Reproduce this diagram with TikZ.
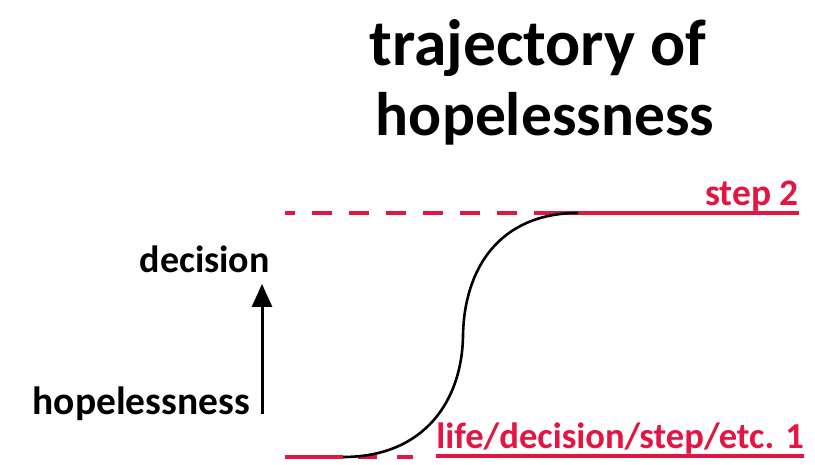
\documentclass[tikz,border=0pt]{standalone}
\usepackage{fontspec}
\setmainfont{Carlito}
\usepackage{tikz}
\usetikzlibrary{arrows.meta, positioning, calc}
\definecolor{Crimson}{RGB}{226, 22, 66}

\begin{document}
\begin{tikzpicture}[x=1pt, y=-1pt, >=Triangle,
  ttl/.style={font=\fontsize{62}{64}\selectfont\bfseries, inner sep=0pt, anchor=base},
  lbl/.style={font=\fontsize{38}{40}\selectfont\bfseries, inner sep=0pt},
  rlbl/.style={lbl, text=Crimson, anchor=base east},
  redline/.style={draw=Crimson, line width=3.2pt},
  curve/.style={draw=black, line width=2.6pt}
]
  \useasboundingbox (0,0) rectangle (815,465);

  %% Title
  \node[ttl, font=\fontsize{65.5}{66}\selectfont\bfseries] (T1) at (538,66) {trajectory of};
  \node[ttl, font=\fontsize{61.5}{64}\selectfont\bfseries] (T2) at (545,136) {hopelessness};

  %% Axis labels and arrow
  \node[lbl, anchor=base east] (DEC)  at (270,273) {decision};
  \node[lbl, anchor=base east, font=\fontsize{39.5}{40}\selectfont\bfseries] (HOPE) at (250,415) {hopelessness};
  \coordinate (abot) at (262,414);
  \coordinate (atop) at (262,284);
  \draw[line width=3pt, -{Triangle[width=20pt, length=23pt]}] (abot) -- (atop);

  %% Levels
  \node[rlbl, font=\fontsize{37.5}{40}\selectfont\bfseries] (S2) at (799,206) {step 2};
  \node[rlbl, font=\fontsize{36.6}{40}\selectfont\bfseries] (S1) at (804,449) {life/decision/step/etc. 1};

  \coordinate (low)  at (343,457);
  \coordinate (mid)  at (463,336);
  \coordinate (high) at (578,213);

  %% upper level
  \draw[redline, dash pattern=on 20pt off 17pt, dash phase=10pt]
    (285,213) -- (534,213);
  \draw[redline] (534,213) -- (S2.east |- high);

  %% lower level
  \draw[redline] (285,457) -- (low);
  \draw[redline, dash pattern=on 0pt off 15pt on 19pt off 20pt on 16pt off 50pt]
    (low) -- (413,457);
  \draw[redline] ($(S1.base west)+(0,7)$) -- ($(S1.base east)+(0,7)$);

  %% S-curve
  \draw[curve] (low) .. controls (425,457) and (462,400) .. (mid)
                     .. controls (464,268) and (500,213) .. (high);
\end{tikzpicture}
\end{document}
